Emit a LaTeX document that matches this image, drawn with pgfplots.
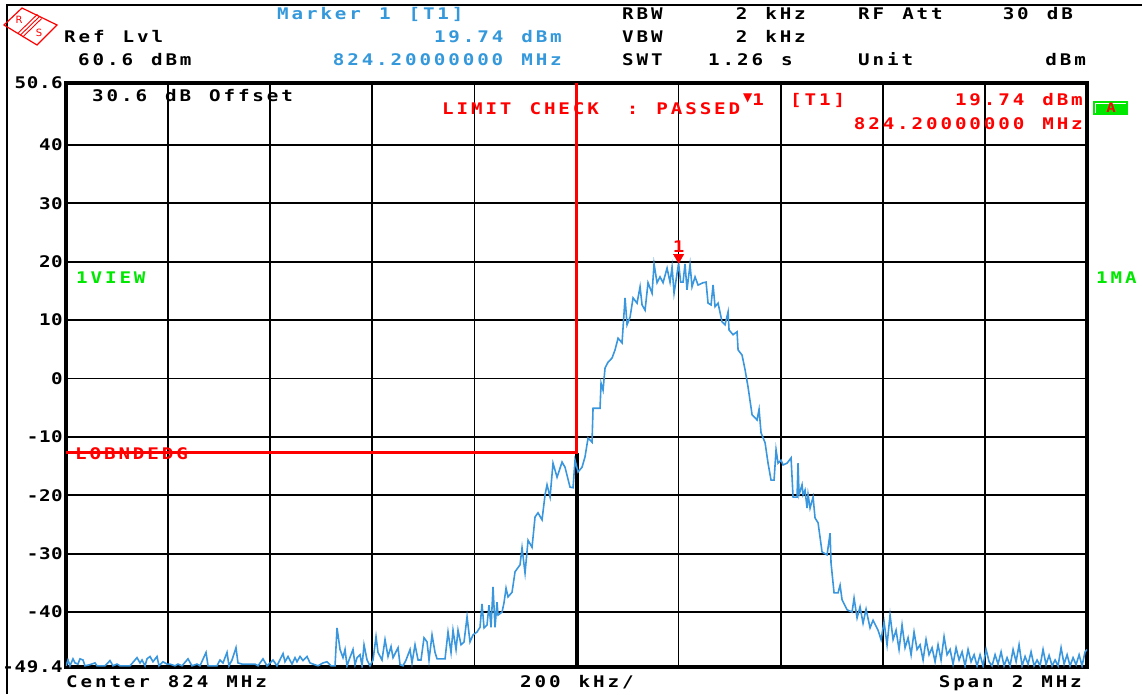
\documentclass[border=0pt]{standalone}
\usepackage{fontspec}
\usepackage{pgfplots}
\pgfplotsset{compat=1.18}
\newfontfamily\rsfont[FakeStretch=1.2,LetterSpace=18,WordSpace=1.25]{DejaVu Sans Mono Bold}
\newfontfamily\rstick[FakeStretch=1.2,LetterSpace=4]{DejaVu Sans Mono Bold}
\newfontfamily\symfont{DejaVu Sans}
\newcommand{\rs}{\rsfont\fontsize{16}{19}\selectfont}
\definecolor{rsblue}{RGB}{52,152,219}
\definecolor{trace}{RGB}{58,150,221}
\definecolor{rsred}{RGB}{255,0,0}
\definecolor{rsgreen}{RGB}{0,232,0}
\begin{document}
\begin{tikzpicture}[x=1pt,y=1pt]
\useasboundingbox (-66,-27) rectangle (1076,667);
% screen frame
\draw[line width=2pt] (-59,-27) -- (-59,662) -- (1076,662);
% R&S logo
\draw[rsred, line width=1.2pt] (-62,642) -- (-44,659) -- (-9,642) -- (-29,622) -- cycle;
\draw[rsred, line width=0.9pt] (-45.5,632) -- (-26.5,650.5)
  (-47.6,634.2) -- (-28.6,652.7) (-43.4,629.9) -- (-24.4,648.4);
\node[rsred, font=\symfont\fontsize{10}{10}\selectfont, inner sep=0] at (-47,647) {R};
\node[rsred, font=\symfont\fontsize{10}{10}\selectfont, inner sep=0] at (-27,634) {S};

\begin{axis}[
  at={(0,0)}, anchor=south west, scale only axis,
  width=1021pt, height=584pt,
  xmin=-1000, xmax=1000, ymin=-49.4, ymax=50.6,
  xtick={-1000,-800,-600,-400,-200,0,200,400,600,800,1000},
  xticklabels={},
  ytick={-49.4,-40,-30,-20,-10,0,10,20,30,40,50.6},
  yticklabels={-49.4,-40,-30,-20,-10,0,10,20,30,40,50.6},
  major tick length=0pt,
  grid=major, major grid style={black, line width=1.7pt},
  axis line style={line width=4pt},
  yticklabel style={font=\rstick\fontsize{16}{19}\selectfont, text=black, inner sep=0pt, xshift=-3pt},
]
\draw[line width=4pt] (axis cs:0,-49.4) -- (axis cs:0,-12.7);
\addplot[trace, line width=1.6pt] coordinates {
(-1000,-49.2) (-996.1,-48.2) (-992.2,-49.2) (-986.3,-48.0) (-982.4,-48.7)
(-976.5,-48.9) (-972.6,-48.0) (-966.7,-48.2) (-962.8,-49.2) (-953.0,-49.0)
(-943.2,-48.7) (-939.3,-49.2) (-923.6,-49.2) (-913.8,-48.3) (-907.9,-49.2)
(-900.1,-48.9) (-894.2,-49.2) (-874.6,-49.2) (-860.9,-47.8) (-855.0,-48.7)
(-851.1,-48.2) (-845.2,-49.2) (-841.3,-48.0) (-835.4,-47.6) (-829.6,-48.5)
(-821.7,-47.6) (-817.8,-49.2) (-810.0,-48.5) (-802.1,-48.9) (-796.3,-48.9)
(-786.5,-49.2) (-780.6,-48.9) (-772.8,-49.2) (-761.0,-48.0) (-753.2,-49.2)
(-743.4,-48.9) (-737.5,-49.2) (-725.7,-46.9) (-721.8,-49.2) (-704.2,-49.2)
(-698.3,-48.2) (-692.4,-48.7) (-684.6,-46.9) (-680.7,-49.2) (-674.8,-48.2)
(-667.0,-46.1) (-663.1,-48.7) (-655.2,-48.9) (-629.8,-48.9) (-623.9,-49.2)
(-614.1,-48.0) (-606.2,-49.2) (-594.5,-48.2) (-586.7,-49.2) (-574.9,-47.1)
(-571.0,-48.5) (-565.1,-47.6) (-557.3,-48.9) (-551.4,-47.8) (-547.5,-48.5)
(-541.6,-47.6) (-535.7,-48.3) (-527.9,-47.6) (-522.0,-48.7) (-516.1,-48.9)
(-506.3,-49.2) (-496.5,-48.7) (-488.7,-48.5) (-480.9,-49.2) (-473.0,-49.2)
(-469.1,-42.7) (-463.2,-46.4) (-457.4,-47.8) (-453.4,-46.4) (-449.5,-49.2)
(-445.6,-48.2) (-437.8,-46.4) (-433.8,-49.0) (-429.9,-47.8) (-424.0,-47.3)
(-420.1,-49.2) (-416.2,-45.6) (-410.3,-48.2) (-404.5,-49.2) (-398.6,-48.2)
(-392.7,-44.2) (-388.8,-46.9) (-381.0,-48.2) (-375.1,-44.7) (-369.2,-47.6)
(-363.3,-45.9) (-359.4,-47.8) (-349.6,-46.1) (-345.7,-49.0) (-339.8,-49.2)
(-333.9,-48.2) (-326.1,-46.4) (-322.2,-48.7) (-316.3,-45.6) (-310.4,-48.2)
(-304.6,-48.2) (-298.7,-44.4) (-292.8,-45.1) (-288.9,-48.2) (-283.0,-43.9)
(-277.1,-46.9) (-273.2,-48.0) (-257.5,-48.0) (-251.7,-43.4) (-245.8,-46.9)
(-241.9,-43.1) (-236.0,-46.4) (-232.1,-43.1) (-226.2,-45.6) (-220.3,-45.1)
(-214.4,-40.8) (-208.6,-45.1) (-202.7,-43.9) (-194.9,-43.4) (-189.0,-42.6)
(-185.1,-38.6) (-181.1,-42.7) (-175.3,-42.2) (-171.4,-38.8) (-167.4,-42.6)
(-163.5,-35.7) (-159.6,-42.6) (-155.7,-38.3) (-153.7,-40.5) (-145.9,-40.0)
(-142.0,-38.4) (-138.0,-35.9) (-134.1,-37.4) (-126.3,-36.6) (-120.4,-33.1)
(-110.6,-31.9) (-106.7,-29.0) (-100.8,-33.3) (-94.9,-27.7) (-87.1,-28.9)
(-81.2,-23.7) (-75.4,-23.0) (-67.5,-24.2) (-61.6,-19.9) (-57.7,-18.2)
(-51.8,-20.3) (-46.0,-14.5) (-38.1,-16.9) (-28.3,-14.3) (-22.5,-15.2)
(-12.7,-18.6) (-6.8,-18.7) (-2.9,-14.0) (3.0,-16.0) (10.8,-15.2)
(16.7,-13.4) (22.6,-10.2) (30.4,-10.9) (32.4,-5.1) (46.1,-5.1)
(48.1,-0.8) (52.0,-2.0) (55.9,1.8) (61.8,2.8) (69.6,3.5)
(75.5,4.9) (81.4,6.9) (89.2,6.1) (95.1,13.8) (99.0,9.2)
(104.9,10.5) (110.8,13.8) (118.6,12.9) (124.5,15.7) (128.4,12.6)
(134.3,11.7) (140.1,16.4) (148.0,14.6) (151.9,19.6) (157.8,16.4)
(163.6,17.4) (169.5,16.4) (177.4,18.9) (183.2,16.5) (187.2,19.1)
(191.1,14.6) (200.0,19.74) (204.0,16.5) (208.7,16.5) (212.6,19.6)
(216.5,15.2) (222.4,19.5) (226.3,15.7) (232.2,17.4) (238.1,16.0)
(247.9,16.4) (253.8,16.5) (257.7,12.9) (263.6,12.6) (267.5,16.0)
(271.4,12.3) (277.3,12.9) (285.1,9.7) (291.0,9.2) (296.9,11.4)
(298.8,8.3) (306.7,7.5) (314.5,8.0) (316.5,4.9) (324.3,4.0)
(330.2,1.5) (336.1,-1.5) (343.9,-6.2) (353.7,-7.1) (357.6,-5.3)
(361.5,-9.3) (369.4,-11.0) (375.2,-14.5) (381.1,-17.4) (387.0,-17.4)
(390.9,-12.2) (394.8,-14.5) (400.7,-14.0) (404.6,-14.8) (412.4,-14.5)
(420.3,-13.6) (424.2,-20.3) (432.0,-20.3) (434.0,-14.5) (435.9,-19.9)
(441.8,-18.2) (443.8,-19.9) (447.7,-19.1) (451.6,-22.2) (453.6,-19.9)
(457.5,-22.2) (463.4,-20.3) (467.3,-23.9) (473.2,-24.7) (481.0,-29.7)
(490.8,-30.2) (496.7,-26.5) (498.6,-31.6) (504.5,-36.7) (512.3,-36.7)
(516.3,-35.4) (520.2,-37.9) (530.0,-39.6) (539.8,-40.0) (543.7,-37.6)
(549.6,-41.0) (555.4,-39.1) (561.3,-41.9) (567.2,-39.5) (575.0,-42.7)
(580.9,-41.4) (590.7,-43.1) (596.6,-44.7) (602.5,-41.7) (608.3,-45.6)
(614.2,-40.5) (620.1,-44.7) (626.0,-43.1) (631.8,-46.4) (637.7,-42.2)
(643.6,-46.1) (649.5,-44.4) (655.4,-47.3) (661.2,-43.4) (667.1,-46.4)
(673.0,-45.6) (678.9,-48.2) (684.7,-44.7) (690.6,-47.3) (696.5,-46.1)
(702.4,-48.5) (708.2,-45.6) (714.1,-48.2) (720.0,-44.2) (725.9,-47.3)
(731.8,-46.4) (737.6,-48.9) (743.5,-46.1) (749.4,-48.2) (755.3,-46.8)
(761.1,-49.2) (767.0,-46.4) (772.9,-48.5) (778.8,-47.3) (784.6,-49.2)
(790.5,-47.3) (796.4,-49.2) (802.3,-46.4) (808.2,-48.5) (814.0,-49.2)
(819.9,-47.3) (825.8,-48.9) (831.7,-46.8) (837.5,-49.2) (843.4,-47.8)
(849.3,-49.2) (855.2,-46.4) (861.1,-48.5) (866.9,-45.6) (872.8,-49.2)
(878.7,-47.6) (884.6,-48.9) (890.4,-46.8) (896.3,-49.2) (902.2,-48.2)
(908.1,-49.2) (913.9,-46.4) (919.8,-49.0) (925.7,-47.4) (931.6,-49.2)
(937.5,-48.2) (943.3,-49.2) (949.2,-46.1) (955.1,-48.9) (961.0,-47.3)
(966.8,-49.2) (972.7,-47.8) (978.6,-49.0) (984.5,-47.3) (990.3,-49.2)
(996.2,-46.8) (1000,-46.4)
};
% lower band edge limit line
\addplot[rsred, line width=2.6pt] coordinates {(-1000,-12.7) (0,-12.7) (0,50.6)};
% marker 1
\addplot[rsred, only marks, mark=triangle*, mark size=6pt,
  mark options={yshift=6pt, rotate=180}] coordinates {(200,19.74)};
\node[rsred, font=\rs, anchor=base, inner sep=0pt, yshift=11pt] at (axis cs:200,19.74) {1};
\end{axis}

\tikzset{every node/.style={inner sep=0pt, font=\rs}}
% header
\node[anchor=base west, rsblue] at (211,647) {Marker 1 [T1]};
\node[anchor=base west] at (-2,624) {Ref Lvl};
\node[anchor=base east, rsblue] at (496,624) {19.74 dBm};
\node[anchor=base west] at (12,601) {60.6 dBm};
\node[anchor=base east, rsblue] at (496,601) {824.20000000 MHz};
\node[anchor=base west] at (556,647) {RBW};
\node[anchor=base west] at (556,624) {VBW};
\node[anchor=base west] at (556,601) {SWT};
\node[anchor=base east] at (740,647) {2 kHz};
\node[anchor=base east] at (740,624) {2 kHz};
\node[anchor=base west] at (642,601) {1.26 s};
\node[anchor=base west] at (792,647) {RF Att};
\node[anchor=base east] at (1007,647) {30 dB};
\node[anchor=base west] at (792,601) {Unit};
\node[anchor=base east] at (1020,601) {dBm};
% inside the diagram
\node[anchor=base west] at (26,565) {30.6 dB Offset};
\node[anchor=base west, rsred] at (376,552) {LIMIT CHECK\hspace{28pt}: PASSED};
\node[anchor=base west, rsred] at (677,561) {\raisebox{4pt}{\symfont\fontsize{12}{12}\selectfont ▼}1};
\node[anchor=base west, rsred] at (724,561) {[T1]};
\node[anchor=base east, rsred] at (1017,561) {19.74 dBm};
\node[anchor=base east, rsred] at (1017,537) {824.20000000 MHz};
\fill[rsgreen] (1027,552) rectangle (1062,566);
\draw[white, line width=0.8pt] (1029,554) -- (1029,564) -- (1060,564);
\node[rsred, font=\rsfont\fontsize{13}{13}\selectfont] at (1045,559) {A};
\node[anchor=base west, rsgreen] at (10,383) {1VIEW};
\node[anchor=base west, rsgreen] at (1030,383) {1MA};
\node[anchor=base west, rsred] at (9,208) {LOBNDEDG};
% footer
\node[anchor=base west] at (0,-20) {Center 824 MHz};
\node[anchor=base west] at (454,-20) {200 kHz/};
\node[anchor=base east] at (1016,-20) {Span 2 MHz};
\end{tikzpicture}
\end{document}
